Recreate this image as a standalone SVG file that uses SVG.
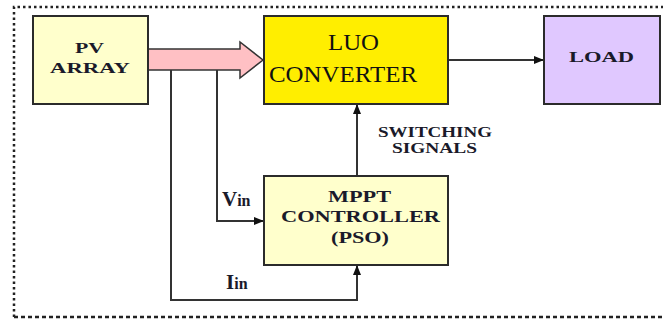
<svg xmlns="http://www.w3.org/2000/svg" width="663" height="323" viewBox="0 0 663 323">
<style>
.box{stroke:#2b2b2b;stroke-width:2}
.lbl{font-family:"Liberation Serif","DejaVu Serif","Times New Roman",serif;font-weight:bold;fill:#1a1a2a}
.big{font-family:"Liberation Serif","DejaVu Serif","Times New Roman",serif;font-size:24px;fill:#111}
.ln{fill:none;stroke:#333;stroke-width:2}
</style>
<defs>
<marker id="ah" markerWidth="10" markerHeight="8" refX="9" refY="4" orient="auto" markerUnits="userSpaceOnUse">
<path d="M0,0 L10,4 L0,8 Z" fill="#111"/>
</marker>
</defs>
<rect width="663" height="323" fill="#fff"/>
<path d="M14,317 L14,7 L670,7" fill="none" stroke="#222" stroke-width="2.5" stroke-dasharray="2.5,3"/>
<path d="M14,317 L670,317" fill="none" stroke="#222" stroke-width="2.5" stroke-dasharray="4,3"/>
<g id="connectors">
<path d="M148,49 L240,49 L240,42 L263,60 L240,78 L240,70 L148,70 Z" fill="#FFC0C4" stroke="#333" stroke-width="1.5"/>
<path class="ln" d="M217,70 L217,221 L263,221" marker-end="url(#ah)"/>
<path class="ln" d="M171,70 L171,300 L357,300 L357,266" marker-end="url(#ah)"/>
<path class="ln" d="M357,176 L357,105" marker-end="url(#ah)"/>
<path class="ln" d="M448,60 L543,60" marker-end="url(#ah)"/>
</g>
<g id="pv">
<rect class="box" x="33" y="16" width="115" height="88" fill="#FFFFCC"/>
<text class="lbl" x="75" y="53" font-size="15" textLength="29" lengthAdjust="spacingAndGlyphs">PV</text>
<text class="lbl" x="50" y="73" font-size="15" textLength="80" lengthAdjust="spacingAndGlyphs">ARRAY</text>
</g>
<g id="luo">
<rect class="box" x="264" y="16" width="184" height="88" fill="#FFEE00"/>
<text class="big" x="328" y="50" textLength="51" lengthAdjust="spacingAndGlyphs">LUO</text>
<text class="big" x="269" y="82" textLength="148" lengthAdjust="spacingAndGlyphs">CONVERTER</text>
</g>
<g id="load">
<rect class="box" x="544" y="16" width="116" height="88" fill="#E0C8FF"/>
<text class="lbl" x="569" y="62" font-size="15" textLength="65" lengthAdjust="spacingAndGlyphs">LOAD</text>
</g>
<g id="mppt">
<rect class="box" x="264" y="176" width="184" height="89" fill="#FFFFCC"/>
<text class="lbl" x="328" y="202" font-size="16" textLength="63" lengthAdjust="spacingAndGlyphs">MPPT</text>
<text class="lbl" x="281" y="222" font-size="16" textLength="159" lengthAdjust="spacingAndGlyphs">CONTROLLER</text>
<text class="lbl" x="331" y="243" font-size="16" textLength="58" lengthAdjust="spacingAndGlyphs">(PSO)</text>
</g>
<g id="labels">
<text class="lbl" x="378" y="137" font-size="15" textLength="114" lengthAdjust="spacingAndGlyphs">SWITCHING</text>
<text class="lbl" x="392" y="153" font-size="15" textLength="85" lengthAdjust="spacingAndGlyphs">SIGNALS</text>
<text class="lbl" x="222" y="206" font-size="21">V<tspan font-size="16">in</tspan></text>
<text class="lbl" x="226" y="289" font-size="21">I<tspan font-size="16">in</tspan></text>
</g>
</svg>
